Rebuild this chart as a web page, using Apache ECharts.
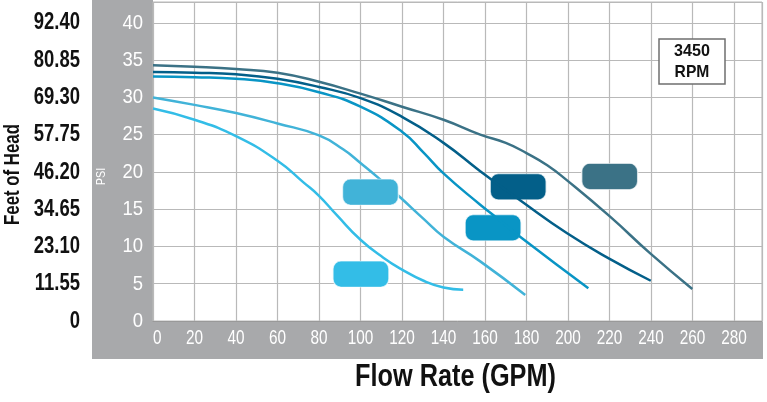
<!DOCTYPE html>
<html>
<head>
<meta charset="utf-8">
<script src="https://cdn.jsdelivr.net/npm/echarts@6/dist/echarts.min.js"></script>
<style>
html,body{margin:0;padding:0;background:#fff;}
#chart{width:767px;height:402px;}
</style>
</head>
<body>
<div id="chart"></div>
<script>
// ---- data ----
var flowTicks = [0,20,40,60,80,100,120,140,160,180,200,220,240,260,280];
var flowLabels = ['0','20','40','60','80','100','120','140','160','180','200','220','240','260','280'];
var psiTicks = [0,5,10,15,20,25,30,35,40];
var psiLabels = ['0','5','10','15','20','25','30','35','40'];
var feetLabels = ['0','11.55','23.10','34.65','46.20','57.75','69.30','80.85','92.40'];

// [flow GPM, PSI]
var curveA = [[0,28.5],[20,27.0],[40,24.8],[60,21.5],[72.5,18.6],[80,16.8],[88.6,14.2],[100,10.9],[111,8.5],[120,6.9],[130.4,5.4],[140,4.5],[149.5,4.2]];
var curveB = [[0,30.0],[20,29.0],[40,27.9],[60,26.5],[80,24.9],[91.8,23.0],[100,21.2],[109.5,19.0],[119.1,16.6],[130.4,13.7],[140,11.3],[157.7,8.0],[179.4,3.5]];
var curveC = [[0,32.8],[20,32.7],[40,32.5],[60,31.9],[80,30.7],[100,28.75],[120,25.4],[130.4,22.6],[140,19.8],[157.7,15.6],[164.1,14.2],[176.9,11.3],[209.8,4.4]];
var curveD = [[0,33.4],[20,33.3],[40,33.1],[60,32.5],[80,31.4],[100,29.9],[120,27.4],[140,23.9],[157.7,20.1],[176.9,16.2],[199.4,11.8],[220.3,8.3],[239.9,5.4]];
var curveE = [[0,34.3],[20,34.1],[40,33.8],[60,33.3],[80,32.1],[100,30.5],[120,28.75],[140,27.0],[157.7,25.0],[170,23.9],[180.2,22.5],[190,20.9],[199.4,18.9],[220.3,14.0],[239.5,9.1],[259.9,4.3]];

// tag positions [flow, PSI]
var tagA = [100.2, 6.3];
var tagB = [104.8, 17.3];
var tagC = [163.9, 12.5];
var tagD = [176.0, 18.0];
var tagE = [220.1, 19.4];

var colors = ['#33bde7', '#41b3d8', '#0995c5', '#035f89', '#3b7286'];
var curves = [curveA, curveB, curveC, curveD, curveE];
var tags = [tagA, tagB, tagC, tagD, tagE];

var FONT = "'Liberation Sans', Arial, sans-serif";
var tagPath = 'path://M8,0 H48 A8,8 0 0 1 56,8 V18 A8,8 0 0 1 48,26 H8 A8,8 0 0 1 0,18 V8 A8,8 0 0 1 8,0 Z';

var chart = echarts.init(document.getElementById('chart'), null, {renderer: 'canvas'});

var series = curves.map(function (c, i) {
  return {
    type: 'line',
    data: c,
    smooth: 0.5,
    symbol: 'none',
    lineStyle: {color: colors[i], width: 2.5},
    z: 3 + i,
    markPoint: {
      symbol: tagPath,
      symbolSize: [56, 26],
      symbolKeepAspect: false,
      itemStyle: {color: colors[i], borderColor: 'rgba(255,255,255,0.7)', borderWidth: 1},
      label: {show: false},
      silent: true,
      data: [{coord: tags[i]}]
    }
  };
});

var gridColor = '#b9b9b9';

chart.setOption({
  animation: false,
  backgroundColor: '#ffffff',
  grid: {left: 153, right: 5, top: 2, bottom: 81, show: true, backgroundColor: '#ffffff', borderColor: gridColor, borderWidth: 1},
  xAxis: {
    type: 'value', min: 0, max: 293.5, interval: 20,
    axisLine: {show: true, lineStyle: {color: '#999', width: 1}},
    axisTick: {show: false},
    splitLine: {show: true, lineStyle: {color: gridColor, width: 1.2}},
    axisLabel: {show: false}
  },
  yAxis: [{
    type: 'value', min: 0, max: 42.8, interval: 5, position: 'left',
    axisLine: {show: false},
    axisTick: {show: false},
    splitLine: {show: true, lineStyle: {color: gridColor, width: 1.2}},
    axisLabel: {show: false}
  }],
  series: series
});

// labels placed through the axes' own scales
var g = [
  {type: 'rect', z: -10, shape: {x: 92, y: 0, width: 61, height: 359}, style: {fill: '#a8a9ab'}, silent: true},
  {type: 'rect', z: -10, shape: {x: 153, y: 321.5, width: 610, height: 37.5}, style: {fill: '#a8a9ab'}, silent: true}
];
psiTicks.forEach(function (v, i) {
  var py = chart.convertToPixel({yAxisIndex: 0}, v);
  g.push({type: 'text', z: 10, x: 143, y: py, scaleX: 0.88, silent: true,
    style: {text: psiLabels[i], fill: '#ffffff', font: '21px ' + FONT, align: 'right', verticalAlign: 'middle'}});
  g.push({type: 'text', z: 10, x: 80, y: py, scaleX: 0.77, silent: true,
    style: {text: feetLabels[i], fill: '#111111', font: 'bold 24px ' + FONT, align: 'right', verticalAlign: 'middle'}});
});
flowTicks.forEach(function (v, i) {
  var px = chart.convertToPixel({xAxisIndex: 0}, v);
  g.push({type: 'text', z: 10, x: px, y: 338.5, scaleX: 0.73, silent: true,
    style: {text: flowLabels[i], fill: '#ffffff', font: '21px ' + FONT, align: i === 0 ? 'left' : 'center', verticalAlign: 'middle'}});
});
g.push({type: 'text', z: 10, x: 101, y: 176.5, rotation: Math.PI / 2, scaleX: 0.8, silent: true,
  style: {text: 'PSI', fill: '#ffffff', font: '13.5px ' + FONT, align: 'center', verticalAlign: 'middle'}});
g.push({type: 'text', z: 10, x: 13, y: 174.5, rotation: Math.PI / 2, scaleX: 0.765, silent: true,
  style: {text: 'Feet of Head', fill: '#111111', font: 'bold 22px ' + FONT, align: 'center', verticalAlign: 'middle'}});
g.push({type: 'text', z: 10, x: 455.5, y: 377.5, scaleX: 0.79, silent: true,
  style: {text: 'Flow Rate (GPM)', fill: '#111111', font: 'bold 32px ' + FONT, align: 'center', verticalAlign: 'middle'}});
g.push({type: 'rect', z: 10, shape: {x: 659, y: 39, width: 66, height: 45}, silent: true,
  style: {fill: '#ffffff', stroke: '#6f6f6f', lineWidth: 1.5}});
g.push({type: 'text', z: 11, x: 692, y: 51, scaleX: 0.95, silent: true,
  style: {text: '3450', fill: '#111111', font: 'bold 17px ' + FONT, align: 'center', verticalAlign: 'middle'}});
g.push({type: 'text', z: 11, x: 692, y: 72.5, scaleX: 0.92, silent: true,
  style: {text: 'RPM', fill: '#111111', font: 'bold 17px ' + FONT, align: 'center', verticalAlign: 'middle'}});

chart.setOption({graphic: g});
</script>
</body>
</html>
